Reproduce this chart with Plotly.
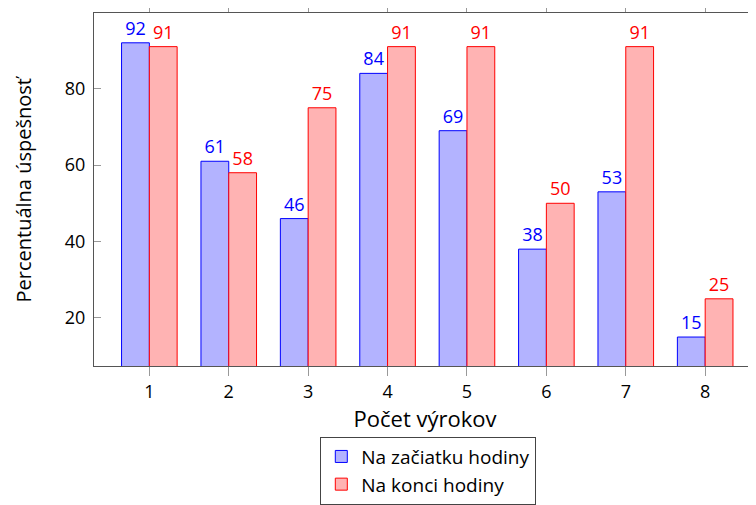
import plotly.graph_objects as go

categories = [1, 2, 3, 4, 5, 6, 7, 8]
start_of_lesson = [92, 61, 46, 84, 69, 38, 53, 15]
end_of_lesson = [91, 58, 75, 91, 91, 50, 91, 25]
y_ticks = [20, 40, 60, 80]

FONT = "Open Sans, Noto Sans, sans-serif"
Y_RANGE = [7.42, 99.8]

fig = go.Figure()
fig.add_trace(go.Bar(
    name="Na začiatku hodiny", x=categories, y=start_of_lesson,
    marker=dict(color="#b3b3ff", line=dict(color="#0000ff", width=1)),
    text=start_of_lesson, textposition="outside", cliponaxis=False,
    textfont=dict(color="#0000ff", size=18),
))
fig.add_trace(go.Bar(
    name="Na konci hodiny", x=categories, y=end_of_lesson,
    marker=dict(color="#ffb3b3", line=dict(color="#ff0000", width=1)),
    text=end_of_lesson, textposition="outside", cliponaxis=False,
    textfont=dict(color="#ff0000", size=18),
))
# invisible helper so the right-hand tick axis is drawn
fig.add_trace(go.Scatter(
    x=categories[:1], y=start_of_lesson[:1], yaxis="y2", mode="markers",
    marker=dict(opacity=0), showlegend=False, hoverinfo="skip",
))

# y title as an annotation, the axis title gets clamped inside the margin
fig.add_annotation(
    text="Percentuálna úspešnosť", textangle=-90, showarrow=False,
    xref="paper", yref="paper", x=0, y=0.5, xanchor="center", yanchor="middle",
    xshift=-71, borderpad=0, font=dict(family=FONT, size=20, color="black"),
)

# page body has an 8px margin, so the figure is a bit smaller than the window
fig.update_layout(
    width=748, height=497,
    margin=dict(l=86, r=0, t=5, b=134),
    paper_bgcolor="white", plot_bgcolor="white",
    font=dict(family=FONT, size=18, color="black"),
    barmode="group", bargap=0.3, bargroupgap=0,
    xaxis=dict(
        range=[0.303, 8.64], tickvals=categories, showgrid=False, zeroline=False,
        showline=True, linecolor="#555555", linewidth=1, mirror="ticks",
        ticks="outside", ticklen=9, tickcolor="#999999", automargin=False,
        title=dict(text="Počet výrokov", standoff=2),
    ),
    yaxis=dict(
        range=Y_RANGE, tickvals=y_ticks, showgrid=False, zeroline=False,
        showline=True, linecolor="#555555", linewidth=1,
        ticks="inside", ticklen=7, tickcolor="#999999", ticklabelstandoff=4,
        automargin=False,
    ),
    yaxis2=dict(
        range=Y_RANGE, tickvals=y_ticks, overlaying="y", side="right",
        showgrid=False, zeroline=False, showline=False, showticklabels=False,
        ticks="inside", ticklen=7, tickcolor="#999999", automargin=False,
    ),
    legend=dict(
        x=0.505, xanchor="center", y=-0.2, yanchor="top",
        bordercolor="#444444", borderwidth=1, bgcolor="white",
        font=dict(size=19), tracegroupgap=0,
    ),
)

fig.write_html("out.html")
